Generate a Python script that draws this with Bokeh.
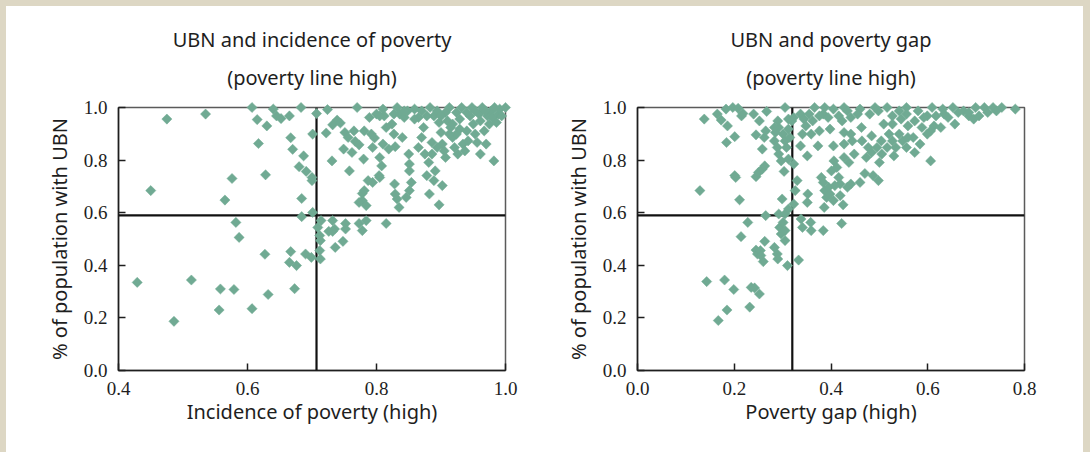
import numpy as np
from bokeh.plotting import figure
from bokeh.models import Range1d, FixedTicker, PrintfTickFormatter, Span, Title, Spacer
from bokeh.layouts import row, column
from bokeh.embed import file_html
from bokeh.resources import INLINE

# ---------------- data ----------------
inc_x = [0.429, 0.486, 0.513, 0.556, 0.558, 0.579, 0.607, 0.632, 0.673, 0.627, 0.665, 0.676, 0.667, 0.690, 0.699,
         0.582, 0.587, 0.565, 0.576, 0.450, 0.475, 0.535, 0.607, 0.615, 0.617, 0.630, 0.628, 0.640, 0.645, 0.652,
         0.665, 0.683, 0.667, 0.670, 0.687, 0.680, 0.691, 0.700, 0.700, 0.684, 0.684, 0.701, 0.707, 0.701, 0.724,
         0.709, 0.714, 0.712, 0.713, 0.712, 0.713, 0.732, 0.735, 0.732, 0.736, 0.748, 0.752, 0.752, 0.773, 0.778,
         0.815, 0.784, 0.726,
         0.722, 0.731, 0.739, 0.732, 0.744, 0.751, 0.756, 0.749, 0.758, 0.762, 0.765, 0.770, 0.767, 0.773, 0.780,
         0.781, 0.789, 0.792, 0.794, 0.797, 0.800, 0.805, 0.808, 0.804, 0.810, 0.812, 0.815, 0.819, 0.824, 0.827,
         0.829, 0.832, 0.836, 0.840, 0.843, 0.848, 0.850, 0.851, 0.851, 0.854, 0.851, 0.846, 0.835, 0.832, 0.828,
         0.829, 0.778, 0.773, 0.778, 0.784, 0.781, 0.787, 0.794, 0.805, 0.859, 0.865, 0.870, 0.873, 0.870, 0.875,
         0.881, 0.878, 0.882, 0.889, 0.891, 0.897, 0.902, 0.883, 0.889, 0.894, 0.897, 0.900, 0.902, 0.905, 0.907,
         0.910, 0.913, 0.915, 0.918, 0.921, 0.924, 0.929, 0.932, 0.934, 0.937, 0.940, 0.942, 0.945, 0.948, 0.950,
         0.953, 0.956, 0.959, 0.961, 0.964, 0.967, 0.970, 0.961, 0.972, 0.975, 0.978, 0.980, 0.982, 0.986, 0.989,
         0.991, 0.994, 1.000, 0.983, 0.969, 0.953, 0.940, 0.907, 0.900, 0.878, 0.859, 0.843, 0.827, 0.805, 0.810,
         0.918, 0.924, 0.929, 0.913, 0.926, 0.886, 0.894, 0.886, 0.865]
inc_y = [0.335, 0.187, 0.344, 0.230, 0.310, 0.308, 0.235, 0.289, 0.311, 0.442, 0.411, 0.399, 0.452, 0.443, 0.430,
         0.563, 0.506, 0.648, 0.730, 0.684, 0.956, 0.975, 1.000, 0.954, 0.863, 0.930, 0.744, 0.994, 0.968, 0.958,
         0.968, 1.000, 0.885, 0.841, 0.816, 0.775, 0.757, 0.734, 0.722, 0.654, 0.585, 0.899, 0.977, 0.601, 0.992,
         0.544, 0.570, 0.513, 0.494, 0.456, 0.424, 0.570, 0.538, 0.529, 0.468, 0.491, 0.559, 0.538, 0.559, 0.532,
         0.559, 0.570, 0.529,
         0.903, 0.797, 0.952, 0.934, 0.941, 0.905, 0.886, 0.842, 0.759, 0.829, 0.911, 1.000, 0.871, 0.858, 0.804,
         0.911, 0.962, 0.899, 0.848, 0.884, 0.975, 0.810, 0.778, 0.741, 0.861, 0.968, 0.924, 0.842, 0.937, 0.899,
         0.851, 1.000, 0.975, 0.886, 0.962, 0.987, 0.823, 0.785, 0.759, 0.715, 0.684, 0.658, 0.620, 0.652, 0.709,
         0.671, 0.646, 0.639, 0.673, 0.627, 0.684, 0.722, 0.715, 0.734, 0.994, 0.962, 0.987, 0.924, 0.886, 0.823,
         0.791, 0.741, 0.671, 0.722, 0.759, 0.630, 0.703, 1.000, 0.968, 0.987, 0.943, 0.905, 0.861, 0.835, 0.810,
         0.949, 1.000, 0.924, 0.886, 0.848, 0.981, 0.956, 1.000, 0.861, 0.835, 0.911, 0.873, 0.968, 1.000, 0.937,
         0.899, 0.867, 0.975, 0.949, 1.000, 0.911, 0.861, 0.823, 0.968, 0.937, 0.987, 0.962, 0.797, 0.943, 0.975,
         0.994, 0.968, 1.000, 1.000, 0.987, 0.987, 0.981, 0.981, 0.968, 0.968, 0.956, 0.987, 0.975, 0.968, 0.994,
         0.937, 0.899, 0.918, 0.899, 0.823, 0.867, 0.848, 0.823, 0.848]

gap_x = [0.143, 0.167, 0.180, 0.185, 0.199, 0.232, 0.235, 0.242, 0.252, 0.129, 0.138, 0.211, 0.214, 0.228, 0.201,
         0.203, 0.201, 0.184, 0.186, 0.173, 0.165, 0.183, 0.197, 0.208, 0.215, 0.218, 0.240, 0.252, 0.267, 0.245,
         0.262, 0.265, 0.258, 0.245, 0.250, 0.258, 0.263, 0.245, 0.248, 0.254, 0.260, 0.263, 0.255, 0.265, 0.283,
         0.289, 0.290, 0.297, 0.305, 0.310, 0.294, 0.301, 0.292, 0.305, 0.299, 0.312, 0.305, 0.333, 0.338, 0.341,
         0.358, 0.359, 0.384, 0.422, 0.323, 0.326, 0.330, 0.352, 0.351, 0.303, 0.323, 0.312,
         0.283, 0.289, 0.292, 0.297, 0.285, 0.292, 0.301, 0.305, 0.308, 0.290, 0.305, 0.312, 0.312, 0.315, 0.283,
         0.337, 0.344, 0.348, 0.341, 0.337, 0.351, 0.359, 0.362, 0.366, 0.373, 0.376, 0.384, 0.387, 0.380, 0.384,
         0.387, 0.391, 0.386, 0.395, 0.398, 0.401, 0.406, 0.412, 0.416, 0.419, 0.405, 0.425, 0.427, 0.405, 0.398,
         0.394, 0.405, 0.416, 0.427, 0.427, 0.423, 0.441, 0.444, 0.448, 0.441, 0.460, 0.470, 0.460, 0.463, 0.464,
         0.477, 0.484, 0.487, 0.498, 0.500, 0.495, 0.504, 0.509, 0.516, 0.498, 0.480, 0.527, 0.527, 0.534, 0.530,
         0.541, 0.545, 0.556, 0.559, 0.556, 0.570, 0.573, 0.580, 0.573, 0.584, 0.588, 0.599, 0.606, 0.606, 0.609,
         0.617, 0.627, 0.631, 0.642, 0.652, 0.656, 0.663, 0.674, 0.685, 0.695, 0.699, 0.706, 0.717, 0.724, 0.735,
         0.742, 0.753, 0.781, 0.685, 0.634, 0.556, 0.541, 0.491, 0.455, 0.434, 0.355, 0.376, 0.323, 0.319, 0.520,
         0.548, 0.559, 0.505, 0.484, 0.473, 0.437, 0.434, 0.408, 0.419, 0.516, 0.599, 0.613, 0.592, 0.527, 0.441,
         0.427]
gap_y = [0.338, 0.190, 0.344, 0.230, 0.308, 0.241, 0.316, 0.314, 0.291, 0.684, 0.956, 0.649, 0.509, 0.563, 0.741,
         0.734, 0.889, 0.867, 0.930, 0.952, 0.975, 0.994, 1.000, 0.997, 0.968, 0.977, 0.975, 0.949, 0.985, 0.896,
         0.886, 0.911, 0.842, 0.737, 0.753, 0.766, 0.778, 0.458, 0.443, 0.456, 0.414, 0.491, 0.437, 0.589, 0.468,
         0.443, 0.424, 0.519, 0.494, 0.399, 0.544, 0.563, 0.595, 0.595, 0.652, 0.614, 0.532, 0.420, 0.576, 0.544,
         0.563, 0.532, 0.532, 0.559, 0.633, 0.684, 0.722, 0.671, 0.639, 0.757, 0.785, 0.804,
         0.873, 0.848, 0.823, 0.797, 0.905, 0.924, 0.899, 0.873, 0.848, 0.949, 1.000, 0.956, 0.918, 0.886, 0.924,
         0.975, 0.956, 0.930, 0.899, 0.854, 0.816, 0.899, 0.949, 1.000, 0.854, 0.911, 0.975, 1.000, 0.734, 0.715,
         0.684, 0.658, 0.620, 0.697, 0.671, 0.759, 0.797, 0.772, 0.734, 0.709, 0.646, 0.630, 0.810, 0.854, 0.918,
         0.962, 0.994, 0.968, 1.000, 0.905, 0.949, 0.962, 0.873, 0.823, 0.709, 0.715, 0.749, 0.994, 0.924, 0.873,
         0.848, 0.892, 0.741, 0.722, 0.791, 0.848, 0.873, 0.937, 1.000, 0.987, 0.975, 0.968, 0.873, 0.848, 0.816,
         0.899, 0.956, 1.000, 0.930, 0.848, 0.886, 0.949, 0.987, 0.829, 0.861, 0.924, 0.968, 0.797, 0.911, 1.000,
         0.968, 0.924, 0.994, 0.962, 1.000, 0.937, 0.981, 0.987, 0.968, 0.956, 1.000, 0.968, 1.000, 0.981, 1.000,
         0.987, 1.000, 0.994, 0.981, 0.975, 0.975, 0.987, 1.000, 0.975, 0.987, 0.975, 0.968, 0.962, 0.949, 0.899,
         0.873, 0.886, 0.823, 0.829, 0.810, 0.791, 0.697, 0.703, 0.665, 0.848, 0.899, 0.930, 0.962, 0.937, 0.899,
         0.861]

inc_threshold = 0.707
gap_threshold = 0.32
ubn_threshold = 0.59

inc_ticks = [0.4, 0.6, 0.8, 1.0]
gap_ticks = [0.0, 0.2, 0.4, 0.6, 0.8]
y_ticks = [0.0, 0.2, 0.4, 0.6, 0.8, 1.0]

inc_title = ["UBN and incidence of poverty", "(poverty line high)"]
gap_title = ["UBN and poverty gap", "(poverty line high)"]
inc_xlabel = "Incidence of poverty (high)"
gap_xlabel = "Poverty gap (high)"
ylabel = "% of population with UBN"

# ---------------- style ----------------
MARK = "#70aa93"
SANS = "Noto Sans"
SERIF = "Liberation Serif"
INK = "#1e1e1e"
BEIGE = "#ddd7c4"


def make_plot(xs, ys, xr, xticks, vline, title, xlabel, bl, br):
    p = figure(frame_width=387, frame_height=263,
               min_border_left=bl, min_border_right=br,
               min_border_top=101, min_border_bottom=76,
               x_range=Range1d(*xr), y_range=Range1d(0, 1),
               output_backend="svg", toolbar_location=None, tools="")
    p.background_fill_color = "white"
    p.border_fill_color = "white"
    p.outline_line_color = "#5a5a5a"
    p.outline_line_width = 1.5
    p.grid.visible = False

    for ax in (p.xaxis[0], p.yaxis[0]):
        ax.major_tick_in = 7
        ax.major_tick_out = 0
        ax.minor_tick_in = 0
        ax.minor_tick_out = 0
        ax.major_tick_line_color = INK
        ax.major_tick_line_width = 1.5
        ax.axis_line_color = INK
        ax.axis_line_width = 1.5
        ax.major_label_text_font = SERIF
        ax.major_label_text_font_size = "19px"
        ax.major_label_text_color = INK
        ax.axis_label_text_font = SANS
        ax.axis_label_text_font_size = "20px"
        ax.axis_label_text_font_style = "normal"
        ax.axis_label_text_color = INK
        ax.formatter = PrintfTickFormatter(format="%.1f")

    p.xaxis[0].ticker = FixedTicker(ticks=xticks)
    p.yaxis[0].ticker = FixedTicker(ticks=y_ticks)
    p.xaxis[0].major_label_standoff = 11
    p.xaxis[0].axis_label_standoff = 0
    p.yaxis[0].major_label_standoff = 11
    p.yaxis[0].axis_label_standoff = 8
    p.xaxis[0].axis_label = xlabel
    p.yaxis[0].axis_label = ylabel

    r = p.scatter(xs, ys, marker="square", angle=np.pi / 4, size=7.2,
                  fill_color=MARK, line_color=MARK, line_width=0.5)
    r.level = "overlay"

    p.add_layout(Span(location=vline, dimension="height", line_color="#111111", line_width=2.2))
    p.add_layout(Span(location=ubn_threshold, dimension="width", line_color="#111111", line_width=2.2))

    p.add_layout(Title(text=title[1], align="center", text_font=SANS, text_font_size="20px",
                       text_font_style="normal", text_color=INK, standoff=33), "above")
    p.add_layout(Title(text=title[0], align="center", text_font=SANS, text_font_size="20px",
                       text_font_style="normal", text_color=INK, standoff=-15), "above")
    return p


p1 = make_plot(inc_x, inc_y, (0.4, 1.0), inc_ticks, inc_threshold, inc_title, inc_xlabel, 112, 40)
p2 = make_plot(gap_x, gap_y, (0.0, 0.8), gap_ticks, gap_threshold, gap_title, gap_xlabel, 92, 59)

left_edge = Spacer(width=6, height=446, styles={"background-color": BEIGE})
right_edge = Spacer(width=7, height=446, styles={"background-color": BEIGE})
top_edge = Spacer(width=1090, height=6, styles={"background-color": BEIGE})

p = column(top_edge, row(left_edge, p1, p2, right_edge), spacing=0)
open("out.html", "w").write(file_html(p, INLINE))
